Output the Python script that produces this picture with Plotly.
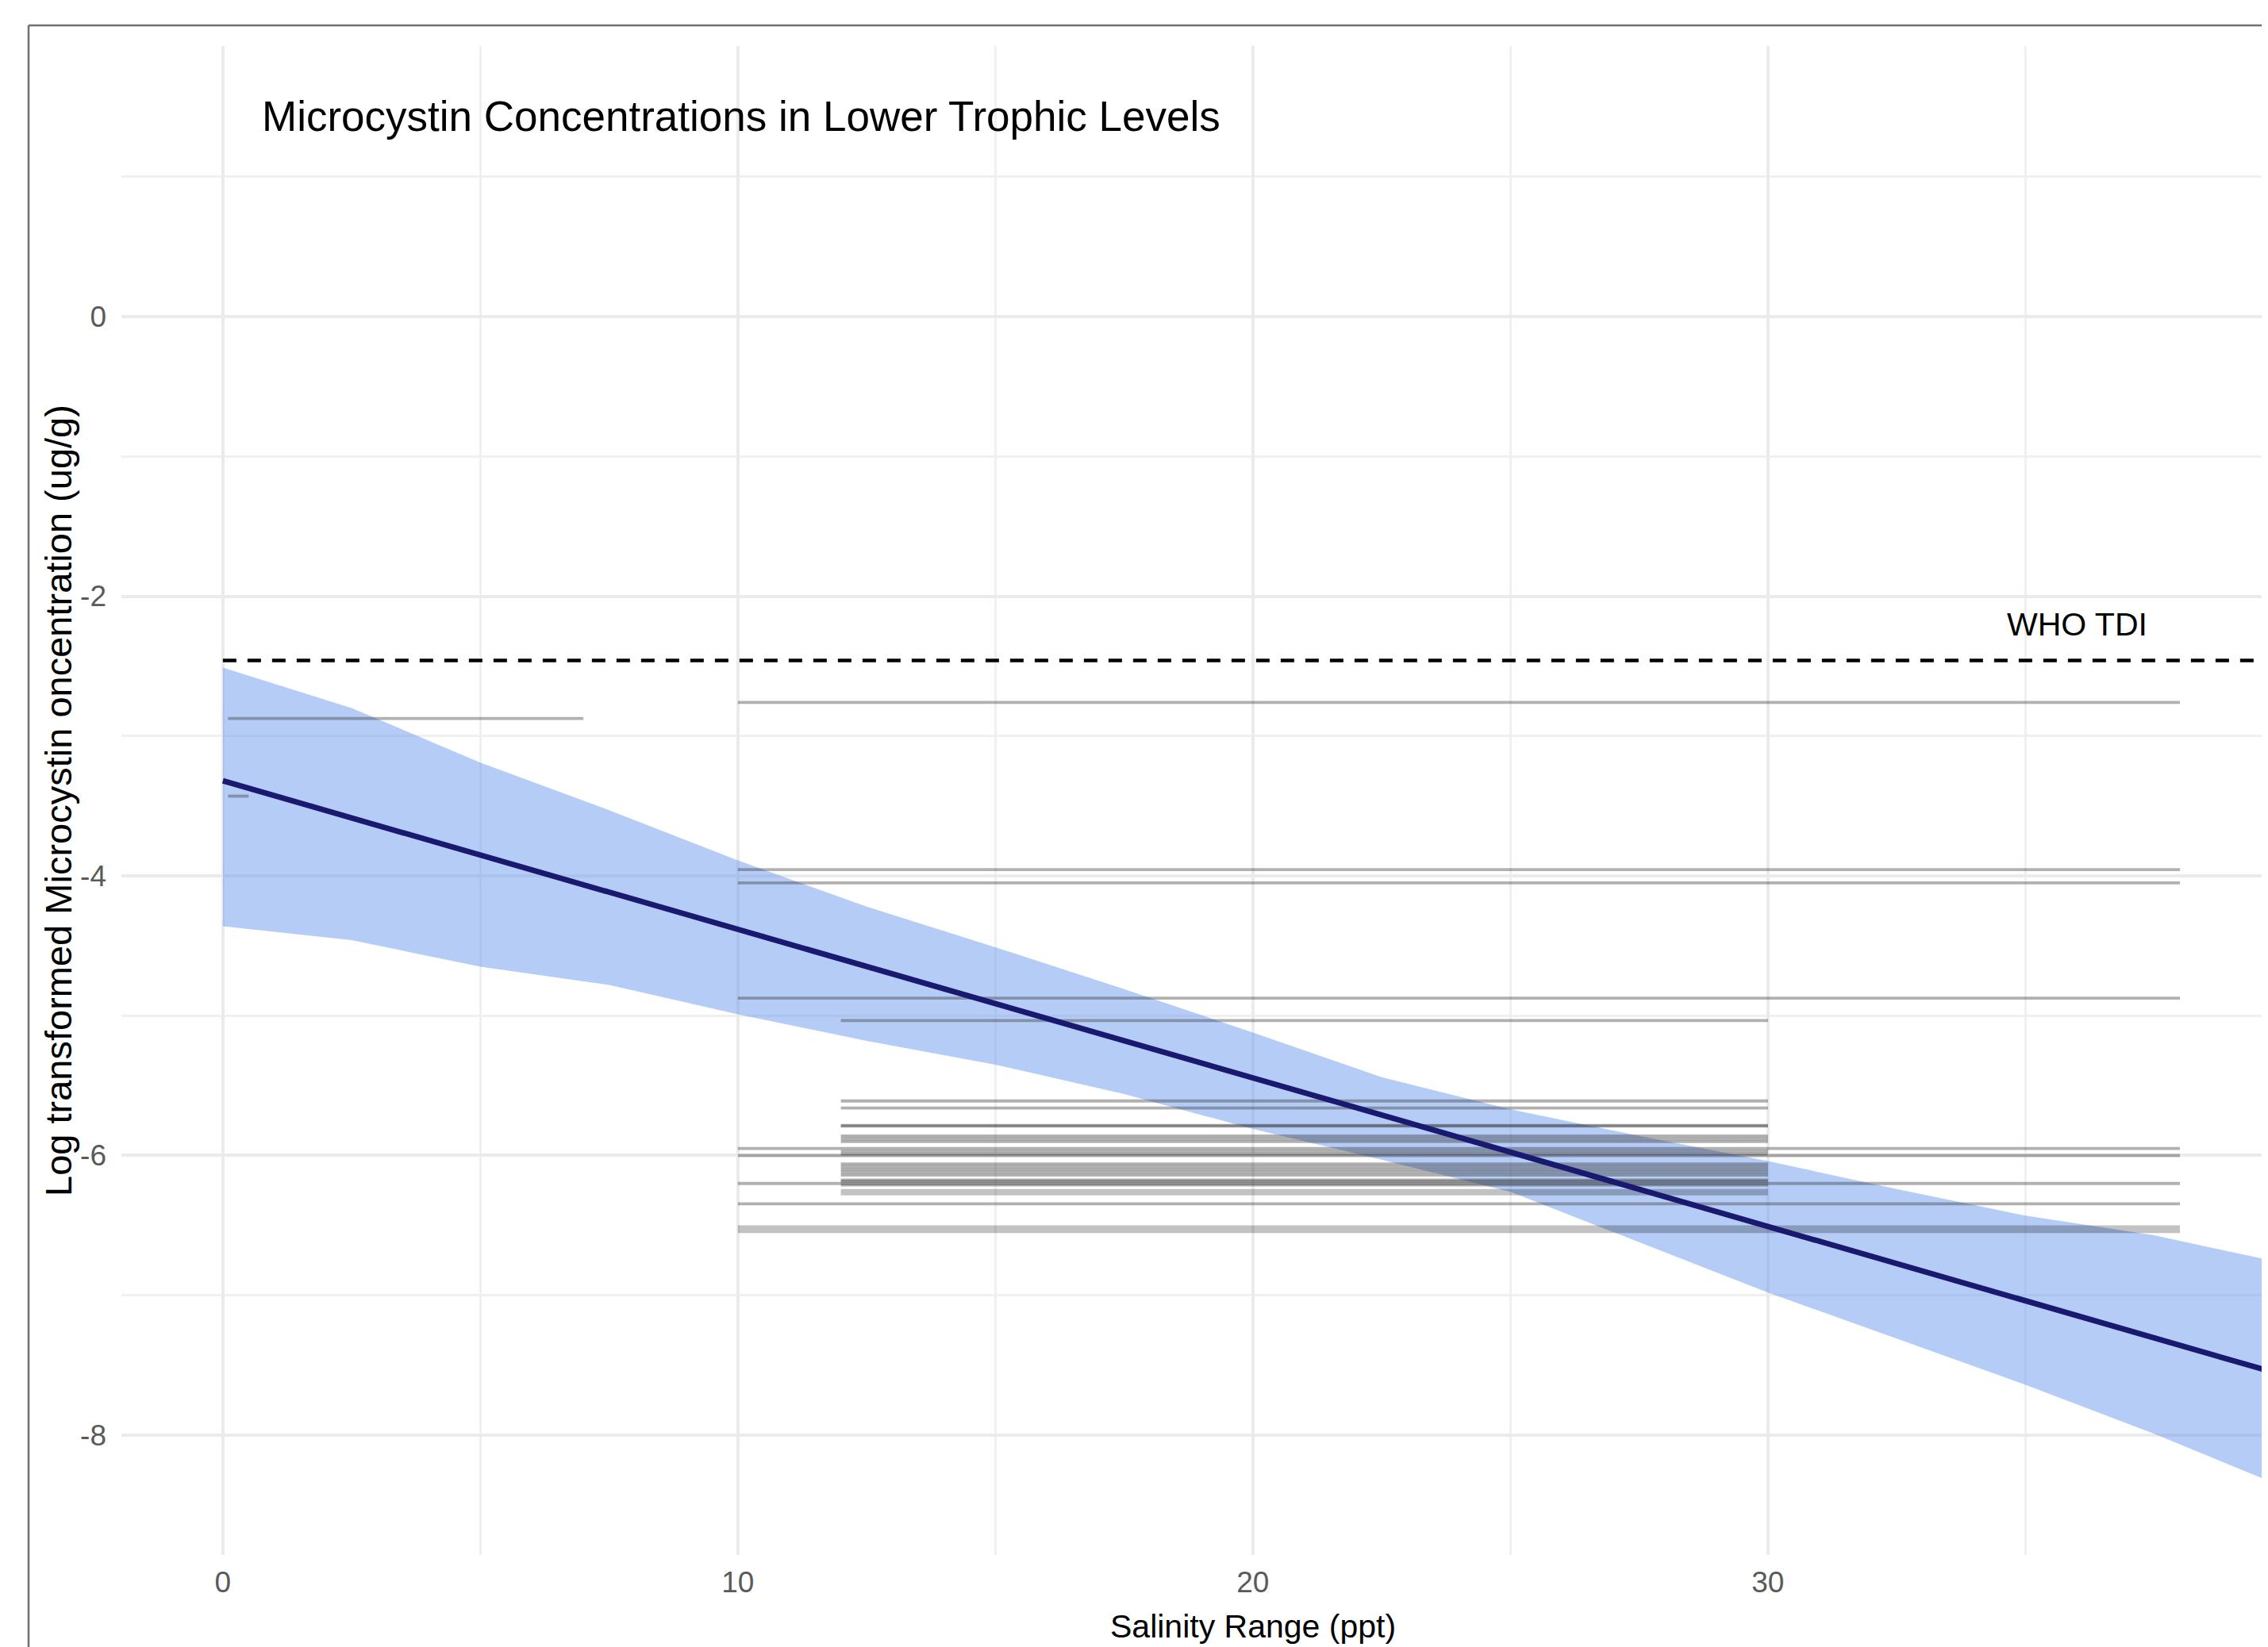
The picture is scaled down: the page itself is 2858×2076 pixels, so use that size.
import plotly.graph_objects as go

# ---------------- data ----------------
# confidence band of the fitted model (salinity, lower, upper)
band_x = [0, 2.5, 5, 7.5, 10, 12.5, 15, 17.5, 20, 22.5, 25, 27.5, 30, 32.5, 35, 37.5, 40]
band_upper = [-2.51, -2.80, -3.19, -3.53, -3.89, -4.22, -4.51, -4.81, -5.12, -5.44,
              -5.67, -5.86, -6.04, -6.24, -6.43, -6.57, -6.77]
band_lower = [-4.36, -4.46, -4.65, -4.78, -4.99, -5.18, -5.35, -5.56, -5.81, -6.03,
              -6.26, -6.62, -6.98, -7.31, -7.64, -7.99, -8.37]

# fitted line
fit_x = [0, 40]
fit_y = [-3.32, -7.57]

# salinity-range segments (min salinity, max salinity, log concentration)
seg_xmin = [0.1, 0.1,
            10, 10, 10, 10, 10, 10, 10, 10,
            12, 12, 12, 12, 12, 12, 12, 12, 12, 12,
            12, 12, 12, 12, 12, 12, 12, 12]
seg_xmax = [7, 0.5,
            38, 38, 38, 38, 38, 38, 38, 38,
            30, 30, 30, 30, 30, 30, 30, 30, 30, 30,
            30, 30, 30, 30, 30, 30, 30, 30]
seg_y = [-2.875, -3.43,
         -2.76, -3.955, -4.05, -4.875, -5.95, -6.00, -6.20, -6.345,
         -5.035, -5.61, -5.66, -5.785, -5.79, -5.86, -5.88, -5.90, -5.97, -5.99,
         -6.06, -6.08, -6.10, -6.12, -6.14, -6.175, -6.185, -6.21]

# wider ranges drawn as boxes (min salinity, max salinity, low, high)
box_xmin = [10, 12]
box_xmax = [38, 30]
box_ylow = [-6.555, -6.285]
box_yhigh = [-6.50, -6.24]

# WHO TDI threshold
who_tdi = -2.46
who_x = [0, 40]
who_label_x = 36
who_label_y = -2.2

x_ticks = [0, 10, 20, 30, 40]
x_minor = [5, 15, 25, 35]
y_ticks = [0, -2, -4, -6, -8]
y_minor = [1, -1, -3, -5, -7]

title = "Microcystin Concentrations in Lower Trophic Levels"
x_title = "Salinity Range (ppt)"
y_title = "Log transformed Microcystin oncentration (ug/g)"

# ---------------- figure ----------------
# page has an 8px body margin, so figure coords = window coords - 8
OFF = 8
W, H = 2858 - OFF, 2076 - OFF
ML, MR, MT, MB = 153 - OFF, 0, 58 - OFF, 2076 - 1960
PW, PH = W - ML - MR, H - MT - MB

FONT = "Liberation Sans, Arial, sans-serif"


def px_x(wx):
    return (wx - OFF - ML) / PW


def px_y(wy):
    return (H - MB - (wy - OFF)) / PH


fig = go.Figure()

# band
fig.add_trace(go.Scatter(
    x=band_x + band_x[::-1], y=band_upper + band_lower[::-1],
    fill="toself", fillcolor="rgba(100,149,237,0.48)",
    line=dict(width=0), mode="lines", hoverinfo="skip"))

# segments
for x0, x1, y in zip(seg_xmin, seg_xmax, seg_y):
    fig.add_trace(go.Scatter(
        x=[x0, x1], y=[y, y], mode="lines",
        line=dict(color="rgba(50,50,50,0.38)", width=3.8), hoverinfo="skip"))

for x0, x1, y0, y1 in zip(box_xmin, box_xmax, box_ylow, box_yhigh):
    fig.add_trace(go.Scatter(
        x=[x0, x1, x1, x0, x0], y=[y0, y0, y1, y1, y0], mode="lines",
        fill="toself", fillcolor="rgba(0,0,0,0.24)",
        line=dict(width=0), hoverinfo="skip"))

# fitted line
fig.add_trace(go.Scatter(
    x=fit_x, y=fit_y, mode="lines",
    line=dict(color="#191970", width=7), hoverinfo="skip"))

# WHO TDI dashed line
fig.add_trace(go.Scatter(
    x=who_x, y=[who_tdi, who_tdi], mode="lines",
    line=dict(color="black", width=4.5, dash="17px,14px"), hoverinfo="skip"))

fig.add_annotation(x=who_label_x, y=who_label_y, xref="x", yref="y",
                   text="WHO TDI", showarrow=False,
                   font=dict(family=FONT, size=41, color="black"),
                   xanchor="center", yanchor="middle")

# axis titles as annotations
fig.add_annotation(x=20, xref="x", y=px_y(2050), yref="paper",
                   text=x_title, showarrow=False,
                   font=dict(family=FONT, size=41, color="black"),
                   xanchor="center", yanchor="middle")
fig.add_annotation(x=px_x(73), xref="paper", y=0.5, yref="paper",
                   text=y_title, showarrow=False, textangle=-90,
                   font=dict(family=FONT, size=47, color="black"),
                   xanchor="center", yanchor="middle")

# frame of the screenshot
bx = px_x(36)
by_top = px_y(32)
by_bot = px_y(2076 + 10)
fig.add_shape(type="line", xref="paper", yref="paper", x0=bx, x1=1.0,
              y0=by_top, y1=by_top, line=dict(color="#707070", width=2.5))
fig.add_shape(type="line", xref="paper", yref="paper", x0=bx, x1=bx,
              y0=by_top, y1=by_bot, line=dict(color="#707070", width=2.5))

fig.update_layout(
    width=W, height=H,
    margin=dict(l=ML, r=MR, t=MT, b=MB, pad=0),
    paper_bgcolor="white", plot_bgcolor="white",
    showlegend=False,
    title=dict(text=title, x=(330 - OFF) / W, xanchor="left", xref="container",
               y=1 - (146 - OFF) / H, yanchor="middle", yref="container",
               font=dict(family=FONT, size=53, color="black")),
)

fig.update_xaxes(
    range=[-1.97, 39.71], tickvals=x_ticks, ticktext=[str(v) for v in x_ticks],
    showgrid=True, gridcolor="#ebebeb", gridwidth=4,
    minor=dict(tickvals=x_minor, showgrid=True, gridcolor="#f0f0f0", gridwidth=3),
    zeroline=False, showline=False, ticks="",
    ticklabelstandoff=9,
    tickfont=dict(family=FONT, size=37, color="#5a5a5a"))

fig.update_yaxes(
    range=[-8.857, 1.935], tickvals=y_ticks, ticktext=[str(v) for v in y_ticks],
    showgrid=True, gridcolor="#ebebeb", gridwidth=4,
    minor=dict(tickvals=y_minor, showgrid=True, gridcolor="#f0f0f0", gridwidth=3),
    zeroline=False, showline=False, ticks="",
    ticklabelstandoff=18,
    tickfont=dict(family=FONT, size=37, color="#5a5a5a"))

fig.write_html("out.html", config={"displayModeBar": False})
